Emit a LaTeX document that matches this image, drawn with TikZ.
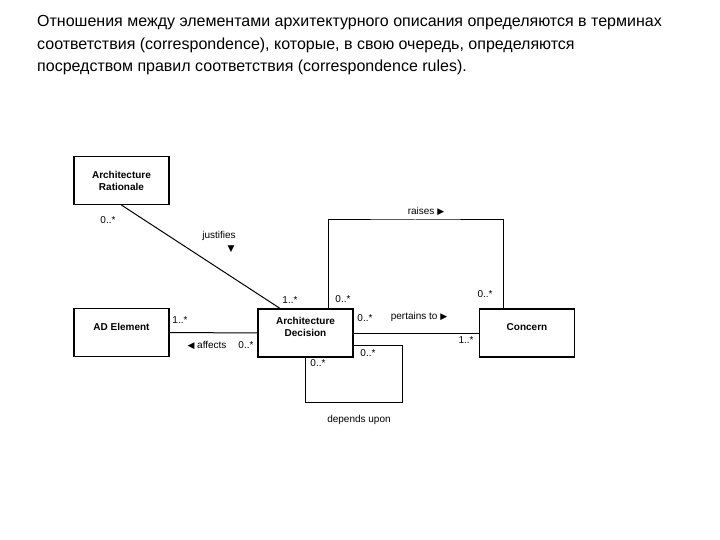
\documentclass[tikz,border=0pt]{standalone}
\usepackage{fontspec}
\setmainfont{Liberation Sans}
\newfontfamily\symfont{DejaVu Sans}
\newcommand{\dirtip}[1]{{\symfont\fontsize{9}{9}\selectfont#1}}

\begin{document}
\begin{tikzpicture}[x=1pt, y=-1pt,
        box/.style={rectangle, draw, line width=1.2pt, minimum width=95pt, minimum height=48pt, align=center, font=\fontsize{10}{12}\selectfont\bfseries},
        lowbox/.style={box, text depth=12pt},
        mult/.style={inner sep=0pt, font=\fontsize{10}{12}\selectfont},
        link/.style={line width=1pt}]
      \useasboundingbox[fill=white] (0,0) rectangle (720,540);
      % Heading
      \node[anchor=base west, align=left, inner sep=0pt, font=\fontsize{16}{22.5}\selectfont] (heading) at (37,72)
        {Отношения между элементами архитектурного описания определяются в терминах\\
         соответствия (correspondence), которые, в свою очередь, определяются\\
         посредством правил соответствия (correspondence rules).};

      % Classes
      \node[box] (rationale) at (121.5,180.5) {Architecture\\Rationale};
      \node[lowbox] (element) at (121.5,332.5) {AD Element};
      \node[lowbox] (decision) at (305.5,333) {Architecture\\Decision};
      \node[lowbox] (concern) at (527,333) {Concern};

      % Associations
      \coordinate (raisetop) at (415,220);
      \coordinate (loopcorner) at (402,402);
      \draw[link] (rationale.south) -- ([xshift=-25.5pt]decision.north);
      \draw[link] (element.east) -- (decision.west);
      \draw[link] (decision.east) -- (concern.west);
      \draw[link] ([xshift=22.5pt]decision.north) |- (raisetop) -| ([xshift=-24pt]concern.north);
      \draw[link] ([yshift=-12pt]decision.east) -| (loopcorner) -| (decision.south);

      % Roles and multiplicities
      \node[mult] (justifiesfrom) at (108,220) {0..*};
      \node[mult] (justifies) at (219,236) {justifies};
      \node[mult] (justifiestip) at (231,249) {\dirtip{▼}};
      \node[mult] (justifiesto) at (290,300) {1..*};
      \node[mult] (raisesfrom) at (343,299) {0..*};
      \node[mult] (raises) at (426,211) {raises \dirtip{▶}};
      \node[mult] (raisesto) at (485,294) {0..*};
      \node[mult] (pertainsfrom) at (365,318) {0..*};
      \node[mult] (pertains) at (419,317) {pertains to \dirtip{▶}};
      \node[mult] (pertainsto) at (466,340) {1..*};
      \node[mult] (dependsfrom) at (368,353) {0..*};
      \node[mult] (dependsto) at (318,363) {0..*};
      \node[mult] (depends) at (359,420) {depends upon};
      \node[mult] (affectsto) at (180,320) {1..*};
      \node[mult] (affects) at (207,345) {\dirtip{◀} affects};
      \node[mult] (affectsfrom) at (246,345) {0..*};
    \end{tikzpicture}
\end{document}
